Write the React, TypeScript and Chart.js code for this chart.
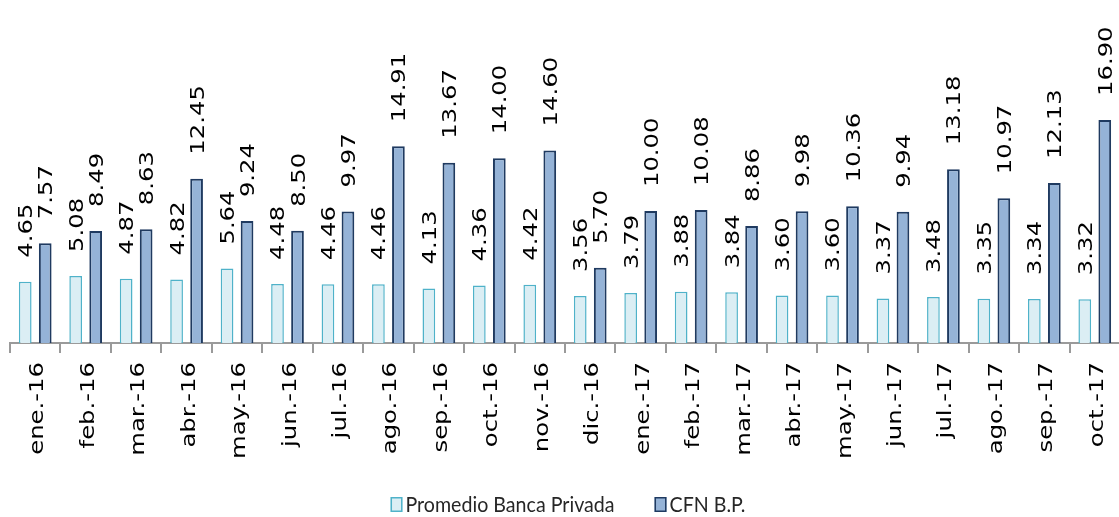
import React, { useEffect, useRef } from 'react';
import { Chart, registerables } from 'chart.js';

Chart.register(...registerables);

const categories = [
  'ene.-16', 'feb.-16', 'mar.-16', 'abr.-16', 'may.-16', 'jun.-16', 'jul.-16', 'ago.-16',
  'sep.-16', 'oct.-16', 'nov.-16', 'dic.-16', 'ene.-17', 'feb.-17', 'mar.-17', 'abr.-17',
  'may.-17', 'jun.-17', 'jul.-17', 'ago.-17', 'sep.-17', 'oct.-17',
];

const bancaPrivada = [
  4.65, 5.08, 4.87, 4.82, 5.64, 4.48, 4.46, 4.46, 4.13, 4.36, 4.42,
  3.56, 3.79, 3.88, 3.84, 3.60, 3.60, 3.37, 3.48, 3.35, 3.34, 3.32,
];

const cfnBP = [
  7.57, 8.49, 8.63, 12.45, 9.24, 8.50, 9.97, 14.91, 13.67, 14.00, 14.60,
  5.70, 10.00, 10.08, 8.86, 9.98, 10.36, 9.94, 13.18, 10.97, 12.13, 16.90,
];

const seriesNames = ['Promedio Banca Privada', 'CFN B.P.'];

const W = 1130;
const H = 517;
const AXIS_Y = 343;

const LIGHT_BG = '#DBEEF4';
const LIGHT_BORDER = '#4FB2C9';
const DARK_BG = '#95B3D7';
const DARK_BORDER = '#1F3A60';

const labelPlugin = {
  id: 'customLabels',
  afterDatasetsDraw(chart: any) {
    const ctx = chart.ctx as CanvasRenderingContext2D;
    ctx.save();
    ctx.fillStyle = '#000';
    ctx.font = '19px "DejaVu Sans"';
    // value labels
    chart.data.datasets.forEach((ds: any, di: number) => {
      const meta = chart.getDatasetMeta(di);
      meta.data.forEach((bar: any, i: number) => {
        const v = ds.data[i] as number;
        ctx.save();
        ctx.translate(bar.x + 7, bar.y - 24);
        ctx.rotate(-Math.PI / 2);
        ctx.scale(1.28, 1);
        ctx.textAlign = 'left';
        ctx.textBaseline = 'alphabetic';
        ctx.fillText(v.toFixed(2), 0, 0);
        ctx.restore();
      });
    });
    // category labels
    const xs = chart.scales.x;
    categories.forEach((c, i) => {
      const x = xs.getPixelForValue(i);
      ctx.save();
      ctx.translate(x + 8, AXIS_Y + 19);
      ctx.rotate(-Math.PI / 2);
      ctx.scale(1.28, 1);
      ctx.textAlign = 'right';
      ctx.textBaseline = 'alphabetic';
      ctx.fillText(c, 0, 0);
      ctx.restore();
    });
    // legend
    ctx.font = '22px Lato';
    const rw1 = ctx.measureText(seriesNames[0]).width;
    const sx = 209 / rw1;
    const w1 = rw1 * sx;
    const w2 = ctx.measureText(seriesNames[1]).width * sx;
    const boxW = 12, boxH = 15, gap = 3, spacing = 40;
    const total = boxW + gap + w1 + spacing + boxW + gap + w2;
    let x0 = 568 - total / 2;
    const boxTop = 497;
    const base = 512;
    const drawItem = (name: string, bg: string, border: string, w: number) => {
      ctx.fillStyle = bg;
      ctx.fillRect(x0, boxTop, boxW, boxH);
      ctx.strokeStyle = border;
      ctx.lineWidth = 1.5;
      ctx.strokeRect(x0 + 0.75, boxTop + 0.75, boxW - 1.5, boxH - 1.5);
      ctx.save();
      ctx.translate(x0 + boxW + gap, base);
      ctx.scale(sx, 1);
      ctx.fillStyle = '#262626';
      ctx.textAlign = 'left';
      ctx.textBaseline = 'alphabetic';
      ctx.fillText(name, 0, 0);
      ctx.restore();
      x0 += boxW + gap + w + spacing;
    };
    drawItem(seriesNames[0], LIGHT_BG, LIGHT_BORDER, w1);
    drawItem(seriesNames[1], DARK_BG, DARK_BORDER, w2);
    ctx.restore();
  },
};

export default function App() {
  const ref = useRef<HTMLCanvasElement | null>(null);

  useEffect(() => {
    if (!ref.current) return;
    const chart = new Chart(ref.current, {
      type: 'bar',
      data: {
        labels: categories,
        datasets: [
          {
            label: seriesNames[0],
            data: bancaPrivada,
            backgroundColor: LIGHT_BG,
            borderColor: LIGHT_BORDER,
            borderWidth: 1.5,
            categoryPercentage: 0.793,
            barPercentage: 0.635,
          },
          {
            label: seriesNames[1],
            data: cfnBP,
            backgroundColor: DARK_BG,
            borderColor: DARK_BORDER,
            borderWidth: 2,
            categoryPercentage: 0.793,
            barPercentage: 0.635,
          },
        ],
      },
      options: {
        animation: false,
        responsive: false,
        devicePixelRatio: 1,
        layout: { padding: { left: 10, right: 10, top: 0, bottom: 0 } },
        plugins: {
          legend: { display: false },
          tooltip: { enabled: false },
          title: { display: false },
        },
        scales: {
          x: {
            offset: true,
            grid: {
              display: true,
              offset: true,
              drawOnChartArea: false,
              drawTicks: true,
              tickLength: 10,
              color: '#9a9a9a',
              lineWidth: 2,
            },
            border: { display: true, color: '#9a9a9a', width: 2 },
            ticks: { display: false },
            afterFit: (s: any) => {
              s.height = H - AXIS_Y;
            },
          },
          y: { display: false, min: 0, max: 26 },
        },
      } as any,
      plugins: [labelPlugin],
    });
    return () => chart.destroy();
  }, []);

  return (
    <div
      style={{
        position: 'fixed',
        left: 0,
        top: 0,
        width: 1119,
        height: 517,
        overflow: 'hidden',
        background: '#fff',
      }}
    >
      <canvas ref={ref} width={W} height={H} style={{ display: 'block' }} />
    </div>
  );
}
